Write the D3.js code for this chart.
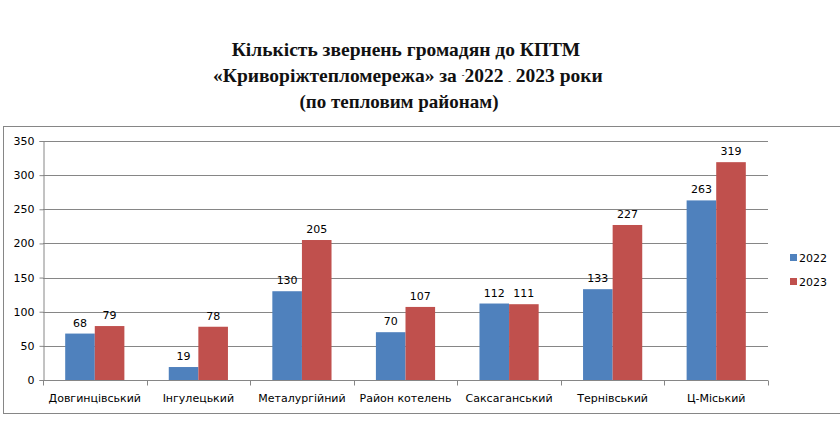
<!DOCTYPE html>
<html>
<head>
<meta charset="utf-8">
<script src="https://cdn.jsdelivr.net/npm/d3@7/dist/d3.min.js"></script>
<style>
  body { margin: 0; background: #fff; }
  svg { display: block; }
</style>
</head>
<body>
<div id="chart"></div>
<script>

// Data
var districts = ["Довгинцівський", "Інгулецький", "Металургійний", "Район котелень",
    "Саксаганський", "Тернівський", "Ц-Міський"];
var values2022 = [68, 19, 130, 70, 112, 133, 263];
var values2023 = [79, 78, 205, 107, 111, 227, 319];
var seriesNames = ["2022", "2023"];
var yTicks = [0, 50, 100, 150, 200, 250, 300, 350];

var colors = ["#4F81BD", "#C0504D"];
var gridColor = "#868686";

var width = 840, height = 428;

var svg = d3.select("#chart").append("svg")
    .attr("width", width)
    .attr("height", height);

// Title (three lines, pasted in as separate pieces so not quite centred)
var serif = "'Liberation Serif', 'Times New Roman', serif";

svg.append("text")
    .attr("x", 406).attr("y", 56)
    .attr("text-anchor", "middle")
    .attr("font-family", serif)
    .attr("font-weight", "bold")
    .attr("font-size", 19.5)
    .attr("fill", "#111")
    .text("Кількість звернень громадян до КПТМ");

var line2 = svg.append("text")
    .attr("x", 213).attr("y", 82)
    .attr("font-family", serif)
    .attr("font-weight", "bold")
    .attr("font-size", 19.5)
    .attr("fill", "#111");
line2.append("tspan").text("«Криворіжтепломережа» за ");
line2.append("tspan").attr("font-size", 8).attr("dy", -4).text("-");
line2.append("tspan").attr("dy", 4).text("2022 ");
line2.append("tspan").attr("font-size", 8).attr("dy", 2).text("-");
line2.append("tspan").attr("dy", -2).text(" 2023");
line2.append("tspan").text(" роки");

svg.append("text")
    .attr("x", 399).attr("y", 108)
    .attr("text-anchor", "middle")
    .attr("font-family", serif)
    .attr("font-weight", "bold")
    .attr("font-size", 19)
    .attr("fill", "#111")
    .text("(по тепловим районам)");

// Chart frame
svg.append("rect")
    .attr("x", 3.5)
    .attr("y", 126.5)
    .attr("width", 860)
    .attr("height", 287)
    .attr("fill", "none")
    .attr("stroke", gridColor)
    .attr("stroke-width", 1);

// Plot area
var plot = { left: 43, right: 768, top: 141, bottom: 380 };

var x0 = d3.scaleBand()
    .domain(districts)
    .range([plot.left, plot.right])
    .paddingInner(0)
    .paddingOuter(0);

// gap width 150% -> group = 2 bars, gap = 1.5 bars
var barW = x0.bandwidth() / 3.5;

var y = d3.scaleLinear()
    .domain([0, 350])
    .range([plot.bottom, plot.top]);

var g = svg.append("g");

// Gridlines
g.selectAll(".grid")
    .data(yTicks)
    .enter().append("line")
    .attr("class", "grid")
    .attr("x1", plot.left)
    .attr("x2", plot.right)
    .attr("y1", function(d) { return Math.round(y(d)) + 0.5; })
    .attr("y2", function(d) { return Math.round(y(d)) + 0.5; })
    .attr("stroke", gridColor)
    .attr("stroke-width", 1);

// Y axis
var yAxis = d3.axisLeft(y)
    .tickValues(yTicks)
    .tickSize(4)
    .tickPadding(5);

var yG = svg.append("g")
    .attr("transform", "translate(" + (plot.left + 0.5) + ",0)")
    .call(yAxis);

yG.select(".domain").attr("stroke", gridColor);
yG.selectAll(".tick line").attr("stroke", gridColor);
yG.selectAll(".tick text")
    .attr("font-family", "Verdana, 'DejaVu Sans', sans-serif")
    .attr("font-size", 11)
    .attr("fill", "#000");

// X axis (category boundaries as ticks)
var xG = svg.append("g")
    .attr("transform", "translate(0," + (plot.bottom + 0.5) + ")");

xG.append("line")
    .attr("x1", plot.left)
    .attr("x2", plot.right)
    .attr("stroke", gridColor);

var boundaries = districts.map(function(d) { return x0(d); }).concat([plot.right]);

xG.selectAll(".xtick")
    .data(boundaries)
    .enter().append("line")
    .attr("class", "xtick")
    .attr("x1", function(d) { return Math.round(d) + 0.5; })
    .attr("x2", function(d) { return Math.round(d) + 0.5; })
    .attr("y1", 0)
    .attr("y2", 5)
    .attr("stroke", gridColor);

xG.selectAll(".xlabel")
    .data(districts)
    .enter().append("text")
    .attr("class", "xlabel")
    .attr("x", function(d) { return x0(d) + x0.bandwidth() / 2; })
    .attr("y", 21)
    .attr("text-anchor", "middle")
    .attr("font-family", "Verdana, 'DejaVu Sans', sans-serif")
    .attr("font-size", 11)
    .attr("fill", "#000")
    .text(function(d) { return d; });

// Bars
var series = [values2022, values2023];

series.forEach(function(vals, si) {
    var barX = function(d, i) {
        return x0(districts[i]) + barW * 0.75 + si * barW;
    };

    g.selectAll(".bar" + si)
        .data(vals)
        .enter().append("rect")
        .attr("class", "bar" + si)
        .attr("x", barX)
        .attr("width", barW)
        .attr("y", function(d) { return y(d); })
        .attr("height", function(d) { return y(0) - y(d); })
        .attr("fill", colors[si]);

    g.selectAll(".label" + si)
        .data(vals)
        .enter().append("text")
        .attr("class", "label" + si)
        .attr("x", function(d, i) { return barX(d, i) + barW / 2; })
        .attr("y", function(d) { return y(d) - 7; })
        .attr("text-anchor", "middle")
        .attr("font-family", "Verdana, 'DejaVu Sans', sans-serif")
        .attr("font-size", 11)
        .attr("fill", "#000")
        .text(function(d) { return d; });
});

// Legend
var legend = svg.append("g")
    .attr("transform", "translate(790,258)");

var items = legend.selectAll(".item")
    .data(seriesNames)
    .enter().append("g")
    .attr("class", "item")
    .attr("transform", function(d, i) { return "translate(0," + (i * 24) + ")"; });

items.append("rect")
    .attr("x", 0)
    .attr("y", -4)
    .attr("width", 7)
    .attr("height", 7)
    .attr("fill", function(d, i) { return colors[i]; });

items.append("text")
    .attr("x", 9)
    .attr("y", 4)
    .attr("font-family", "Verdana, 'DejaVu Sans', sans-serif")
    .attr("font-size", 11)
    .attr("fill", "#000")
    .text(function(d) { return d; });

</script>
</body>
</html>
